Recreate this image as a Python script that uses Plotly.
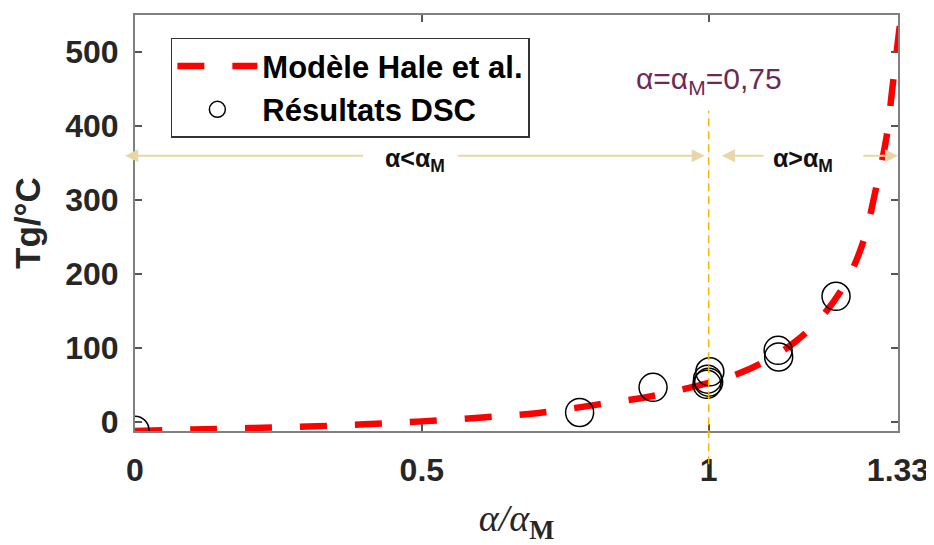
import plotly.graph_objects as go

# --- data ---
# Hale et al. model curve (Tg vs alpha/alpha_M)
model_x = [0, 0.1, 0.2, 0.3, 0.4, 0.5, 0.6, 0.7, 0.8, 0.9, 1.0, 1.05, 1.1, 1.15, 1.2, 1.24, 1.27, 1.29, 1.31, 1.32, 1.333]
model_y = [-12, -10, -8, -6, -3, 1, 6, 12, 23, 35, 53, 65, 83, 108, 145, 190, 245, 310, 385, 450, 535]

# DSC results
dsc_x = [0, 0.775, 0.903, 1.002, 0.998, 1.0, 0.997, 1.121, 1.122, 1.222]
dsc_y = [-11, 13, 47, 68, 58, 54, 51, 97, 88, 170]

x_ticks = [0, 0.5, 1, 1.33]
x_ticktext = ["0", "0.5", "1", "1.33"]
y_ticks = [0, 100, 200, 300, 400, 500]

ALPHA_M = 1.0
ARROW_Y = 360
TAN = "#e6d6a8"

fig = go.Figure()

fig.add_trace(go.Scatter(
    x=model_x, y=model_y, mode="lines", line_shape="spline",
    line=dict(color="#ff0000", width=6.5, dash="27px,28px"),
    name="Modèle Hale et al."))

fig.add_trace(go.Scatter(
    x=dsc_x, y=dsc_y, mode="markers",
    marker=dict(symbol="circle-open", size=28, color="black", line=dict(width=1.5)),
    name="Résultats DSC"))

# vertical line at alpha = alpha_M
fig.add_shape(type="line", xref="x", yref="paper", x0=ALPHA_M, x1=ALPHA_M, y0=-0.08, y1=0.77,
              line=dict(color="#f5b800", width=1.5, dash="8px,5px"))

# double arrows with labels
arrows = [
    (0.40, -0.017),   # left part, pointing left
    (0.56, 0.993),    # left part, pointing right
    (1.098, 1.023),   # right part, pointing left
    (1.267, 1.330),   # right part, pointing right
]
for tail, head in arrows:
    fig.add_annotation(x=head, y=ARROW_Y, ax=tail, ay=ARROW_Y, xref="x", yref="y",
                       axref="x", ayref="y", text="", showarrow=True,
                       arrowhead=2, arrowsize=1.3, arrowwidth=2, arrowcolor=TAN)

fig.add_annotation(x=0.488, y=ARROW_Y, text="<b>α<α<sub>M</sub></b>", showarrow=False,
                   font=dict(family="Liberation Sans", size=25, color="#111111"), yshift=-4)
fig.add_annotation(x=1.165, y=ARROW_Y, text="<b>α>α<sub>M</sub></b>", showarrow=False,
                   font=dict(family="Liberation Sans", size=25, color="#111111"), yshift=-4)

fig.add_annotation(x=ALPHA_M, y=462, text="α=α<sub>M</sub>=0,75", showarrow=False,
                   font=dict(family="Liberation Sans", size=30, color="#6e2a55"))

axis_common = dict(
    showline=True, linecolor="#808080", linewidth=2, mirror="ticks",
    ticks="inside", ticklen=7, tickwidth=1.5, tickcolor="#555555",
    showgrid=False, zeroline=False, automargin=False,
)

fig.update_xaxes(range=[0, 1.33], tickvals=x_ticks, ticktext=x_ticktext,
                 ticklabelstandoff=10,
                 tickfont=dict(family="Liberation Sans", size=32,
                               color="#262626", weight="bold"),
                 title=dict(text="<i>α/α</i><sub><b>M</b></sub>", standoff=18,
                            font=dict(family="Liberation Serif", size=38, color="#262626")),
                 **axis_common)
fig.update_yaxes(range=[-12, 550], tickvals=y_ticks, ticklabelstandoff=8,
                 tickfont=dict(family="Liberation Sans", size=32, color="#262626", weight="bold"),
                 title=dict(text="<b>Tg/°C</b>", standoff=14,
                            font=dict(family="Liberation Sans", size=35, color="#262626")),
                 **axis_common)

# page body adds an 8px offset, so the figure is sized to fit the window
fig.update_layout(
    width=926, height=537,
    margin=dict(l=127, r=36, t=7, b=114),
    plot_bgcolor="white", paper_bgcolor="white",
    showlegend=True,
    legend=dict(x=0.047, y=0.945, xanchor="left", yanchor="top",
                bgcolor="white", bordercolor="#333333", borderwidth=1.5,
                font=dict(family="Liberation Sans", size=31, color="black", weight="bold"),
                tracegroupgap=0, itemwidth=80),
)

fig.write_html("out.html")
